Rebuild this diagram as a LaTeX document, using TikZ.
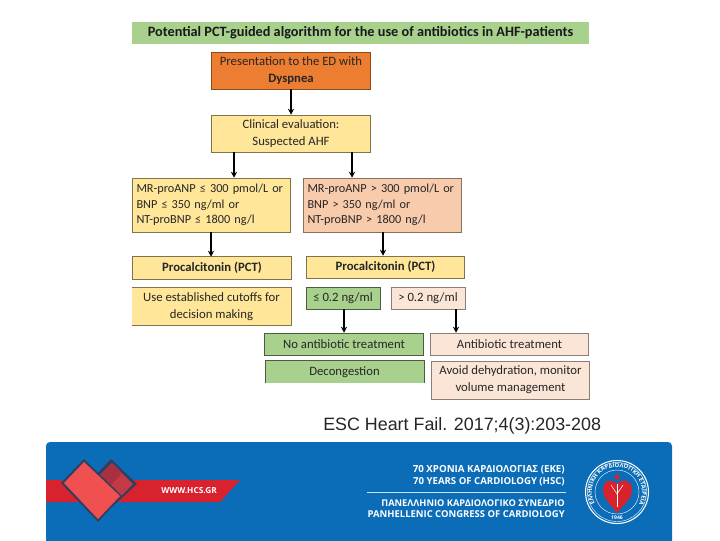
\documentclass[tikz,border=0pt]{standalone}
\usepackage{fontspec}
\setmainfont{Carlito}
\newfontfamily\citefont{Liberation Sans}
\newfontfamily\footfont{Open Sans}
\usetikzlibrary{decorations.text,arrows.meta}
\definecolor{titlegreen}{HTML}{A9D18E}
\definecolor{edorange}{HTML}{ED7D31}
\definecolor{softyellow}{HTML}{FFE699}
\definecolor{softpeach}{HTML}{F8CBAD}
\definecolor{palepeach}{HTML}{FBE5D6}
\definecolor{footblue}{HTML}{0B6DB8}
\definecolor{bandred}{HTML}{D8232F}
\definecolor{heartfront}{HTML}{F0504F}
\definecolor{heartback}{HTML}{C23A46}
\definecolor{heartdark}{HTML}{A8303F}
\definecolor{heartedge}{HTML}{2F3F5F}
\tikzset{
  x=0.75pt,y=-0.75pt,
  boxbase/.style={minimum width=158.5*0.75pt,inner sep=0pt,align=center,font=\fontsize{9.55}{12.6}\selectfont,text=black!85},
  orangebox/.style={boxbase,fill=edorange,draw=edorange!60!black,minimum height=37*0.75pt},
  yellowbox/.style={boxbase,fill=softyellow,draw=black!50!softyellow,minimum height=37*0.75pt},
  peachbox/.style={boxbase,fill=softpeach,draw=black!45!softpeach,minimum height=37*0.75pt},
  greenbox/.style={boxbase,fill=titlegreen,draw=black!55!titlegreen,minimum height=22*0.75pt},
  paleblock/.style={boxbase,fill=palepeach,draw=black!45!palepeach,minimum height=22*0.75pt},
  mrbox/.style={minimum height=54*0.75pt,align=left,text width=150*0.75pt,font=\fontsize{9.2}{11.7}\selectfont},
  arr/.style={-{Stealth[length=4.5pt,width=4.5pt]},line width=1.3pt,black},
  foottext/.style={text=white,anchor=east,inner sep=0pt}
}
\begin{document}
\begin{tikzpicture}
\useasboundingbox (0,0) rectangle (720,540);
\fill[white] (0,0) rectangle (720,540);
% title
\node[fill=titlegreen,minimum width=457*0.75pt,minimum height=22*0.75pt,inner sep=0pt,font=\fontsize{10.7}{12}\selectfont\bfseries,text=black!90] (title) at (360.5,33) {Potential PCT-guided algorithm for the use of antibiotics in AHF-patients};
% flow
\node[orangebox] (ed) at (291,70.5) {Presentation to the ED with\\\textbf{Dyspnea}};
\node[yellowbox] (clin) at (291,133.5) {Clinical evaluation:\\Suspected AHF};
\node[yellowbox,mrbox] (mrl) at (211.5,205) {MR-proANP ≤ 300 pmol/L or\\BNP ≤ 350 ng/ml or\\NT-proBNP ≤ 1800 ng/l};
\node[peachbox,mrbox] (mrr) at (382.5,205) {MR-proANP > 300 pmol/L or\\BNP > 350 ng/ml or\\NT-proBNP > 1800 ng/l};
\node[boxbase,fill=softyellow,minimum height=22*0.75pt] (pctl) at (212,268) {\textbf{Procalcitonin (PCT)}};
\node[yellowbox,minimum height=22*0.75pt] (pctr) at (385.5,267) {\textbf{Procalcitonin (PCT)}};
\node[boxbase,fill=softyellow,minimum height=37*0.75pt] (use) at (211.5,306.5) {Use established cutoffs for\\decision making};
\node[greenbox,minimum width=74*0.75pt] (low) at (343,298) {≤ 0.2 ng/ml};
\node[paleblock,minimum width=74*0.75pt] (high) at (428,298) {> 0.2 ng/ml};
\node[greenbox] (noab) at (344,344) {No antibiotic treatment};
\node[paleblock] (ab) at (509.5,344) {Antibiotic treatment};
\node[boxbase,fill=titlegreen,minimum height=22*0.75pt] (dec) at (344.5,372) {Decongestion};
\node[paleblock,minimum height=38*0.75pt] (avoid) at (510.5,380) {Avoid dehydration, monitor\\volume management};
% partial outlines as printed
\draw[black!50!softyellow,line width=0.5pt] (pctl.south west) -- (pctl.north west) -- (pctl.north east) -- (pctl.south east);
\draw[black!50!softyellow,line width=0.5pt] (pctl.south west) -- (pctl.south east);
\draw[black!50!softyellow,line width=0.5pt] (use.north west) -- (use.north east) -- (use.south east) -- (use.south west);
\draw[black!55!titlegreen,line width=0.5pt] (dec.south west) -- (dec.north west) -- (dec.north east) -- (dec.south east);
% connector x positions
\coordinate (xa) at (234,0);
\coordinate (xb) at (352,0);
\coordinate (xc) at (211,0);
\coordinate (xd) at (383,0);
\coordinate (xe) at (344,0);
\coordinate (xf) at (456,0);
\draw[arr] (ed.south) -- (clin.north);
\draw[arr] (clin.south -| xa) -- (mrl.north -| xa);
\draw[arr] (clin.south -| xb) -- (mrr.north -| xb);
\draw[arr] (mrl.south -| xc) -- (pctl.north -| xc);
\draw[arr] (mrr.south -| xd) -- (pctr.north -| xd);
\draw[arr] (low.south -| xe) -- (noab.north -| xe);
\draw[arr] (high.south -| xf) -- (ab.north -| xf);
% citation
\node[anchor=base west,inner sep=0pt,font=\citefont\fontsize{13.4}{15}\selectfont,text=black!85] (cite) at (323,430) {ESC Heart Fail. 2017;4(3):203-208};
% footer
\fill[footblue,rounded corners=3pt] (46,442) rectangle (672,560);
\fill[bandred] (46,480) -- (240,480) -- (220,502) -- (46,502) -- cycle;
\fill[heartedge] (111,459) -- (137,484) -- (112,507) -- (87,484) -- cycle;
\fill[heartback] (112,463) -- (133,484) -- (120,497) -- (99,476) -- cycle;
\fill[heartdark] (101,474) -- (112,463) -- (122,473) -- (110,486) -- cycle;
\fill[heartedge] (84,459) -- (122,496) -- (98,522) -- (61,483) -- cycle;
\fill[heartfront] (84,462) -- (120,496) -- (98,519) -- (64,483) -- cycle;
\node[inner sep=0pt,font=\footfont\bfseries\fontsize{6.2}{7}\selectfont,text=white] (web) at (189,490.5) {WWW.HCS.GR};
\node[foottext,font=\footfont\bfseries\fontsize{7.3}{8}\selectfont] (t1) at (565,470) {70 ΧΡΟΝΙΑ ΚΑΡΔΙΟΛΟΓΙΑΣ (ΕΚΕ)};
\node[foottext,font=\footfont\bfseries\fontsize{7.2}{8}\selectfont] (t2) at (565,482) {70 YEARS OF CARDIOLOGY (HSC)};
\draw[white!80!footblue,line width=0.5pt] (367,492) -- (566,492);
\node[foottext,font=\footfont\bfseries\fontsize{6.95}{8}\selectfont] (t3) at (565,503) {ΠΑΝΕΛΛΗΝΙΟ ΚΑΡΔΙΟΛΟΓΙΚΟ ΣΥΝΕΔΡΙΟ};
\node[foottext,font=\footfont\bfseries\fontsize{7.1}{8}\selectfont] (t4) at (565,514) {PANHELLENIC CONGRESS OF CARDIOLOGY};
% logo
\draw[white,line width=0.8pt] (617,492) circle (31.5);
\draw[white,line width=0.3pt] (617,492) circle (29.5);
\draw[white,line width=0.3pt] (617,492) circle (22);
\path[decorate,decoration={text along path,text align=center,text={|\footfont\bfseries\fontsize{4.4}{5}\selectfont\color{white}|ΕΛΛΗΝΙΚΗ ΚΑΡΔΙΟΛΟΓΙΚΗ ΕΤΑΙΡΕΙΑ}}] (599.3,509.7) arc[start angle=135,end angle=405,radius=25];
\fill[bandred] (617,484) .. controls (611,478) and (603,480) .. (603,490) .. controls (603,499) and (612,506) .. (617,513) .. controls (622,506) and (632,499) .. (632,490) .. controls (632,480) and (623,478) .. (617,484) -- cycle;
\fill[bandred] (617,477) circle (2.6);
\draw[white,line width=0.7pt] (617,484) -- (617,507);
\draw[white,line width=0.4pt] (611,485) -- (617,494) -- (623,485);
\node[inner sep=0pt,font=\footfont\bfseries\fontsize{3.8}{4}\selectfont,text=white] (year) at (617,518) {1946};
\end{tikzpicture}
\end{document}
